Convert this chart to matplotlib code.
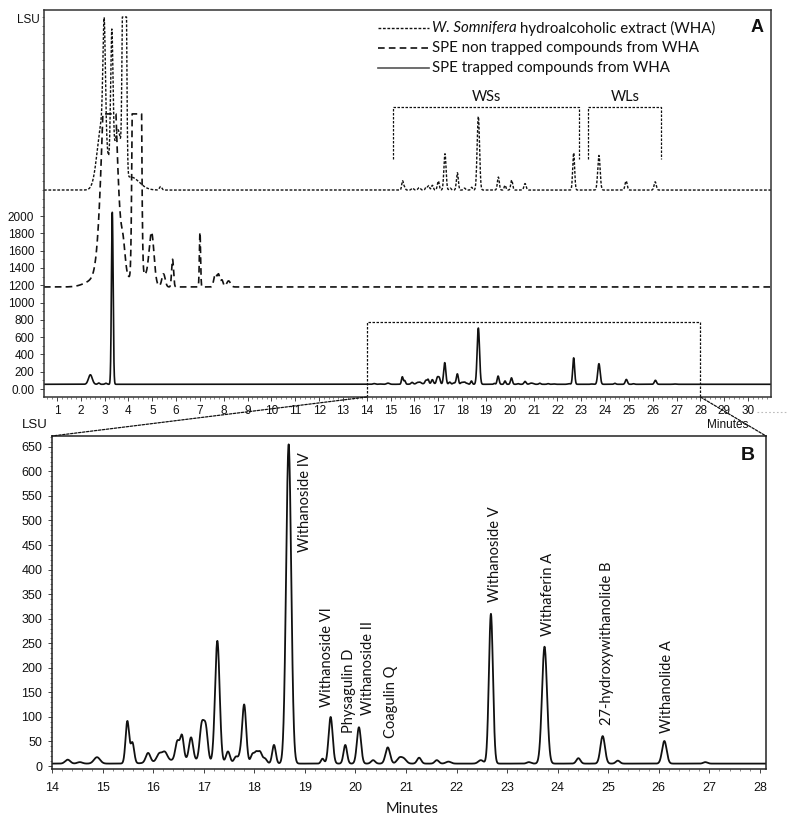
import numpy as np
import matplotlib
matplotlib.use("Agg")
import matplotlib.pyplot as plt
from matplotlib.lines import Line2D
from matplotlib.patches import ConnectionPatch
from matplotlib.ticker import MultipleLocator

# ------------------------------------------------------------------ data
# SPE trapped compounds (solid trace): retention time (min), height (LSU), peak width (sigma, min)
trap_rt = [2.40, 2.75, 3.05, 3.32,
           14.31, 14.55, 14.89, 15.49, 15.59, 15.90, 16.12, 16.23, 16.48, 16.57,
           16.75, 16.96, 17.04, 17.27, 17.48, 17.64, 17.72, 17.80, 17.97, 18.04,
           18.11, 18.21, 18.39, 18.68, 19.35, 19.51, 19.80, 20.07, 20.35, 20.64,
           20.87, 20.96, 21.26, 21.61, 21.84, 22.48, 22.68, 23.43, 23.74, 24.41,
           24.89, 25.19, 26.11, 26.92, 16.60]
trap_h = [110, 15, 12, 1990,
          8, 3, 13, 86, 42, 20, 16, 18, 38, 48,
          46, 70, 68, 248, 24, 14, 12, 120, 20, 16,
          24, 10, 38, 650, 10, 95, 38, 74, 7, 33,
          11, 9, 12, 7, 4, 7, 305, 3, 238, 11,
          56, 6, 46, 3, 8]
trap_w = [0.08, 0.04, 0.04, 0.035,
          0.05, 0.05, 0.06, 0.035, 0.035, 0.045, 0.05, 0.05, 0.04, 0.035,
          0.04, 0.04, 0.04, 0.045, 0.04, 0.04, 0.03, 0.04, 0.04, 0.03,
          0.04, 0.04, 0.035, 0.05, 0.03, 0.04, 0.035, 0.04, 0.04, 0.045,
          0.05, 0.05, 0.04, 0.04, 0.05, 0.05, 0.04, 0.04, 0.05, 0.04,
          0.045, 0.04, 0.045, 0.04, 0.40]
trap_base = 5
trap_offset_A = 50

# SPE non trapped compounds (dashed trace)
nontrap_rt = [3.20, 2.60, 3.78, 3.90, 4.25, 4.45, 4.70, 4.97, 5.47, 5.85, 7.00, 7.64, 7.78, 7.92, 8.20]
nontrap_h = [3600, 80, 250, 100, 8000, 8000, 130, 560, 150, 320, 630, 150, 140, 80, 70]
nontrap_w = [0.25, 0.40, 0.08, 0.30, 0.06, 0.06, 0.25, 0.10, 0.07, 0.04, 0.025, 0.06, 0.05, 0.05, 0.08]
nontrap_base = 1180
nontrap_clip = 3180

# W. Somnifera hydroalcoholic extract (fine dotted trace)
wha_rt = [2.90, 2.98, 3.30, 3.55, 3.78, 3.88, 4.10, 5.35,
          15.50, 15.58, 15.92, 16.20, 16.50, 16.60, 16.75, 17.00, 17.28, 17.50,
          17.80, 18.10, 18.40, 18.68, 19.52, 19.80, 20.08, 20.64, 22.68, 23.74,
          24.88, 26.10]
wha_h = [800, 1250, 1580, 650, 3000, 3000, 150, 40,
         105, 35, 22, 28, 40, 50, 55, 105, 420, 22,
         200, 22, 32, 850, 150, 55, 115, 75, 430, 400,
         105, 95]
wha_w = [0.20, 0.05, 0.05, 0.15, 0.04, 0.04, 0.35, 0.05,
         0.035, 0.035, 0.045, 0.05, 0.04, 0.035, 0.04, 0.04, 0.045, 0.04,
         0.04, 0.04, 0.035, 0.05, 0.04, 0.035, 0.04, 0.045, 0.04, 0.05,
         0.045, 0.045]
wha_base = 2300
wha_clip = 4300

legend_labels = ["hydroalcoholic extract (WHA)",
                 "SPE non trapped compounds from WHA",
                 "SPE trapped compounds from WHA"]
legend_italic = "W. Somnifera"

compound_names = ["Withanoside IV", "Withanoside VI", "Physagulin D", "Withanoside II",
                  "Coagulin Q", "Withanoside V", "Withaferin A",
                  "27-hydroxywithanolide B", "Withanolide A"]
compound_x = [19.00, 19.43, 19.88, 20.25, 20.70, 22.76, 23.81, 24.97, 26.17]
compound_y = [436, 121, 67, 104, 58, 335, 265, 83, 68]

A_xticks = list(range(1, 31))
A_yticks = list(range(0, 2001, 200))
A_yticklabels = ["0.00"] + [str(v) for v in range(200, 2001, 200)]
B_xticks = list(range(14, 29))
B_yticks = list(range(0, 651, 50))

zoom_range = (14, 28)
zoom_top = 780
ws_span = (15.1, 22.9)
wl_span = (23.3, 26.35)
bracket_y = (2660, 3260)

# ------------------------------------------------------------------ helpers
def trace(t, base, rts, hs, ws, clip=None):
    y = np.full_like(t, float(base))
    for r, h, w in zip(rts, hs, ws):
        y += h * np.exp(-(t - r) ** 2 / (2 * w ** 2))
    if clip is not None:
        y = np.minimum(y, clip)
    return y

W, H = 787, 821
def fx(px): return px / W
def fy(py): return 1 - py / H

TICKFONT = "Liberation Sans"
LABFONT = "Lato"
INK = "#111111"

fig = plt.figure(figsize=(W / 100, H / 100), dpi=100)

# ------------------------------------------------------------------ panel A
axA = fig.add_axes([fx(44), fy(397), (771 - 44) / W, (397 - 10) / H])
tA = np.linspace(0.45, 31.0, 8000)
axA.plot(tA, trace(tA, wha_base, wha_rt, wha_h, wha_w, wha_clip),
         color=INK, lw=1.0, ls=(0, (2.0, 1.2)))
axA.plot(tA, trace(tA, nontrap_base, nontrap_rt, nontrap_h, nontrap_w, nontrap_clip),
         color=INK, lw=1.2, ls=(0, (4.0, 2.5)))
axA.plot(tA, trace(tA, trap_base + trap_offset_A, trap_rt, trap_h, trap_w),
         color=INK, lw=1.2)
axA.set_xlim(0.455, 30.96)
axA.set_ylim(-92, 4381)
axA.set_xticks(A_xticks)
axA.set_xticklabels([str(v) for v in A_xticks], fontfamily=TICKFONT, fontsize=8.5)
axA.set_yticks(A_yticks)
axA.set_yticklabels(A_yticklabels, fontfamily=TICKFONT, fontsize=8.5)
axA.xaxis.set_minor_locator(MultipleLocator(0.2))
axA.yaxis.set_minor_locator(MultipleLocator(100))
axA.tick_params(axis="both", which="major", length=3, width=0.7, color="#444444", labelcolor=INK)
axA.tick_params(axis="x", which="major", pad=3)
axA.tick_params(axis="y", which="major", pad=4)
axA.tick_params(axis="both", which="minor", length=1.5, width=0.5, color="#555555")
for s in axA.spines.values():
    s.set_color("#333333")
    s.set_linewidth(1.1)

# WSs / WLs brackets
for (x0, x1), lab in [(ws_span, "WSs"), (wl_span, "WLs")]:
    axA.plot([x0, x0, x1, x1], [bracket_y[0], bracket_y[1], bracket_y[1], bracket_y[0]],
             color=INK, lw=0.9, ls=(0, (2.0, 1.2)))
    axA.text((x0 + x1) / 2, bracket_y[1] + 40, lab, ha="center", va="bottom",
             fontfamily=LABFONT, fontsize=10.5, color=INK)

# zoom rectangle
y0A = axA.get_ylim()[0]
axA.plot([zoom_range[0], zoom_range[0], zoom_range[1], zoom_range[1]],
         [y0A, zoom_top, zoom_top, y0A], color=INK, lw=0.9, ls=(0, (2.0, 1.2)), clip_on=False)

# legend (manual, as in the original)
leg_rows = [28, 48, 68]
leg_styles = [dict(lw=1.0, ls=(0, (2.0, 1.2)), color=INK),
              dict(lw=1.2, ls=(0, (4.0, 2.5)), color=INK),
              dict(lw=1.2, ls="-", color="#555555")]
for py, st in zip(leg_rows, leg_styles):
    fig.add_artist(Line2D([fx(378), fx(429)], [fy(py), fy(py)], transform=fig.transFigure, **st))

LEGFS = 10.8
t_it = fig.text(fx(432), fy(leg_rows[0]), legend_italic, style="italic", ha="left", va="center",
                fontfamily=LABFONT, fontsize=LEGFS, color=INK)
fig.canvas.draw()
bb = t_it.get_window_extent(fig.canvas.get_renderer())
fig.text(bb.x1 / W + 0.004, fy(leg_rows[0]), legend_labels[0], ha="left", va="center",
         fontfamily=LABFONT, fontsize=LEGFS, color=INK)
for py, lab in zip(leg_rows[1:], legend_labels[1:]):
    fig.text(fx(432), fy(py), lab, ha="left", va="center",
             fontfamily=LABFONT, fontsize=LEGFS, color=INK)

fig.text(fx(757), fy(28), "A", ha="center", va="center", fontfamily=TICKFONT,
         fontweight="bold", fontsize=13, color=INK)
fig.text(fx(28), fy(20), "LSU", ha="center", va="center", fontfamily=TICKFONT,
         fontsize=8.5, color=INK)
fig.text(fx(728), fy(425), "Minutes", ha="center", va="center", fontfamily=TICKFONT,
         fontsize=8.5, color=INK)
fig.add_artist(Line2D([fx(757), fx(787)], [fy(412), fy(412)], transform=fig.transFigure,
                      color="#bbbbbb", lw=0.8, ls=(0, (1.5, 2.0))))

# ------------------------------------------------------------------ panel B
axB = fig.add_axes([fx(52), fy(769), (766 - 52) / W, (769 - 436) / H])
tB = np.linspace(14.0, 28.12, 5000)
axB.plot(tB, trace(tB, trap_base, trap_rt, trap_h, trap_w), color=INK, lw=1.3)
axB.set_xlim(14.0, 28.12)
axB.set_ylim(-6, 672)
axB.set_xticks(B_xticks)
axB.set_xticklabels([str(v) for v in B_xticks], fontfamily=TICKFONT, fontsize=9)
axB.set_yticks(B_yticks)
axB.set_yticklabels([str(v) for v in B_yticks], fontfamily=TICKFONT, fontsize=9)
axB.xaxis.set_minor_locator(MultipleLocator(0.2))
axB.yaxis.set_minor_locator(MultipleLocator(10))
axB.tick_params(axis="both", which="major", length=3, width=0.7, color="#444444", labelcolor=INK)
axB.tick_params(axis="x", which="major", pad=6)
axB.tick_params(axis="y", which="major", pad=4)
axB.tick_params(axis="both", which="minor", length=1.5, width=0.5, color="#555555")
for s in axB.spines.values():
    s.set_color("#222222")
    s.set_linewidth(1.1)

for name, x, y in zip(compound_names, compound_x, compound_y):
    axB.text(x, y, name, rotation=90, ha="center", va="bottom",
             fontfamily=LABFONT, fontsize=10.5, color=INK)

fig.text(fx(748), fy(455), "B", ha="center", va="center", fontfamily=TICKFONT,
         fontweight="bold", fontsize=14, color=INK)
fig.text(fx(35), fy(425), "LSU", ha="center", va="center", fontfamily=TICKFONT,
         fontsize=9.5, color=INK)
fig.text(fx(412), fy(809), "Minutes", ha="center", va="center", fontfamily=LABFONT,
         fontsize=10.5, color=INK)

# ------------------------------------------------------------------ connectors
for xa, xb in [(zoom_range[0], 0.0), (zoom_range[1], 1.0)]:
    cp = ConnectionPatch(xyA=(xa, y0A), coordsA=axA.transData,
                         xyB=(xb, 1.0), coordsB=axB.transAxes,
                         color=INK, lw=0.9, ls=(0, (2.0, 1.2)))
    fig.add_artist(cp)

fig.savefig("out.png", dpi=100)
